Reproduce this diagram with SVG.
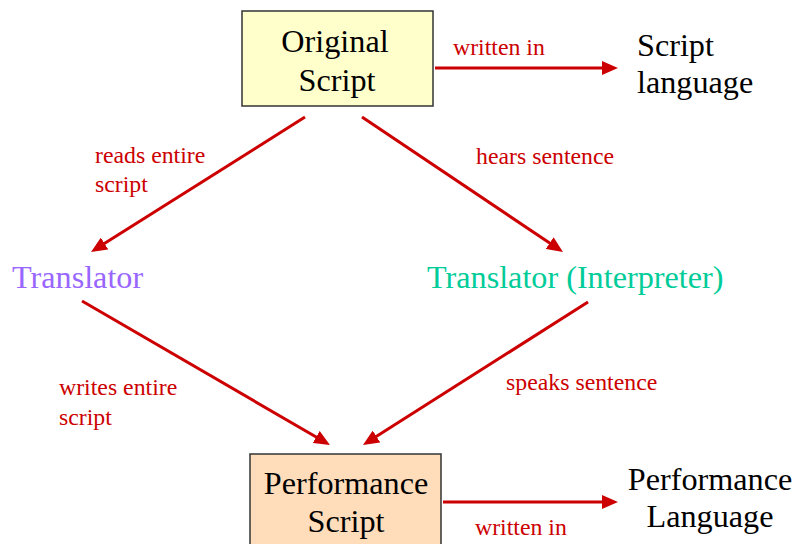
<svg xmlns="http://www.w3.org/2000/svg" width="796" height="544" viewBox="0 0 796 544">
  <style>
    .big { font-family: "Liberation Serif", "Times New Roman", serif; font-size: 32.2px; fill: #000; }
    .lbl { font-family: "Liberation Serif", "Times New Roman", serif; font-size: 23.8px; fill: #CC0000; }
    .box { stroke: #333; stroke-width: 1.5; }
    .conn { stroke: #CC0000; stroke-width: 3; fill: none; marker-end: url(#head); }
  </style>
  <defs>
    <marker id="head" markerUnits="userSpaceOnUse" markerWidth="16" markerHeight="14" refX="4" refY="7" orient="auto">
      <path d="M0,0 L16,7 L0,14 z" fill="#CC0000"/>
    </marker>
  </defs>
  <rect width="796" height="544" fill="#fff"/>

  <g id="connectors">
    <line class="conn" x1="435" y1="68" x2="606" y2="68"/>
    <line class="conn" x1="305" y1="117" x2="101.2" y2="245.6"/>
    <line class="conn" x1="362" y1="117" x2="553" y2="245.3"/>
    <line class="conn" x1="82" y1="301" x2="319.6" y2="439"/>
    <line class="conn" x1="588" y1="302" x2="373.1" y2="438.6"/>
    <line class="conn" x1="443" y1="502" x2="606" y2="502"/>
    <text class="lbl" x="453" y="55">written in</text>
    <text class="lbl" x="95" y="163">reads entire</text>
    <text class="lbl" x="95" y="192">script</text>
    <text class="lbl" x="476" y="164">hears sentence</text>
    <text class="lbl" x="59" y="395">writes entire</text>
    <text class="lbl" x="59" y="425">script</text>
    <text class="lbl" x="506" y="390">speaks sentence</text>
    <text class="lbl" x="475" y="535">written in</text>
  </g>

  <g id="original-script">
    <rect class="box" x="242" y="11" width="191" height="95" fill="#FFFFCC"/>
    <text class="big" x="335" y="52" text-anchor="middle">Original</text>
    <text class="big" x="337" y="91" text-anchor="middle">Script</text>
  </g>

  <g id="script-language">
    <text class="big" x="637" y="56">Script</text>
    <text class="big" x="637" y="93">language</text>
  </g>

  <g id="translator">
    <text class="big" x="12" y="288" style="fill:#9966FF">Translator</text>
  </g>

  <g id="interpreter">
    <text class="big" x="427" y="288" style="fill:#00CC99">Translator (Interpreter)</text>
  </g>

  <g id="performance-script">
    <rect class="box" x="250" y="454" width="191" height="100" fill="#FFDDBB"/>
    <text class="big" x="346" y="494" text-anchor="middle">Performance</text>
    <text class="big" x="346" y="532" text-anchor="middle">Script</text>
  </g>

  <g id="performance-language">
    <text class="big" x="710" y="490" text-anchor="middle">Performance</text>
    <text class="big" x="710" y="527" text-anchor="middle">Language</text>
  </g>
</svg>
